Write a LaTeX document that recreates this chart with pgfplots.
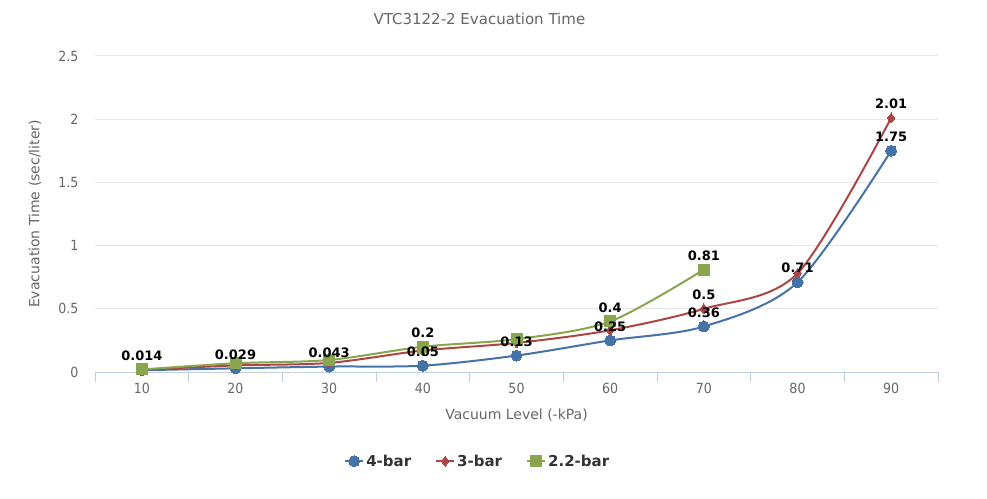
\documentclass[border=0pt]{standalone}
\usepackage{pgfplots}
\pgfplotsset{compat=1.18}
\usepackage{pgfplotstable}
\usepackage{fontspec}
\setmainfont{DejaVu Sans}
\newfontfamily\condfont{DejaVu Sans Condensed}
\definecolor{sblue}{HTML}{4572A7}
\definecolor{sred}{HTML}{AA4643}
\definecolor{sgreen}{HTML}{89A54E}
\definecolor{gridc}{HTML}{E6E6E6}
\definecolor{axisc}{HTML}{C0D0E0}
\definecolor{txt}{HTML}{666666}
\definecolor{legtxt}{HTML}{333333}

\pgfplotstableread{
x y
0 0.014
1 0.029
2 0.043
3 0.05
4 0.13
5 0.25
6 0.36
7 0.71
8 1.75
}\fourbar
\pgfplotstableread{
x y
0 0.018
1 0.052
2 0.072
3 0.17
4 0.23
5 0.33
6 0.5
7 0.78
8 2.01
}\threebar
\pgfplotstableread{
x y
0 0.02
1 0.069
2 0.095
3 0.2
4 0.26
5 0.4
6 0.81
}\twobar
\pgfplotstableread{
x y lab
0 0.014 0.014
1 0.029 0.029
2 0.043 0.043
3 0.05 0.05
4 0.13 0.13
5 0.25 0.25
6 0.36 0.36
7 0.71 0.71
8 1.75 1.75
}\fourlab
\pgfplotstableread{
x y lab
6 0.5 0.5
8 2.01 2.01
}\threelab
\pgfplotstableread{
x y lab
3 0.2 0.2
5 0.4 0.4
6 0.81 0.81
}\twolab

\begin{document}
\begin{tikzpicture}
\useasboundingbox (0,0) rectangle (987pt,498pt);
\begin{axis}[
  at={(95pt,126pt)}, anchor=south west,
  scale only axis, width=843pt, height=316pt,
  xmin=-0.5, xmax=8.5, ymin=0, ymax=2.5,
  axis x line*=bottom, axis y line*=left,
  x axis line style={draw=axisc, line width=1pt},
  y axis line style={draw=none},
  xtick={0,...,8},
  xticklabels={10,20,30,40,50,60,70,80,90},
  xtick style={draw=none},
  extra x ticks={-0.5,0.5,...,8.5},
  extra x tick labels={},
  extra x tick style={xtick style={draw=axisc, line width=1pt}, major tick length=10pt, tick align=outside, grid=none},
  ytick={0,0.5,1,1.5,2,2.5},
  ytick style={draw=none},
  ymajorgrids, grid style={draw=gridc, line width=1pt},
  /pgf/number format/assume math mode=true,
  xticklabel style={font=\condfont\fontsize{14}{14}\selectfont, text=txt, yshift=-8pt},
  yticklabel style={font=\condfont\fontsize{14}{14}\selectfont, text=txt, xshift=-13pt},
  xlabel={Vacuum Level (-kPa)},
  xlabel style={at={(axis description cs:0.5,-0.136)}, anchor=center, font=\fontsize{14}{14}\selectfont, text=txt},
  ylabel={Evacuation Time (sec/liter)},
  ylabel style={at={(axis description cs:-0.0712,0.5)}, anchor=center, font=\fontsize{14}{14}\selectfont, text=txt},
  title={VTC3122-2 Evacuation Time},
  title style={at={(axis description cs:0.456,1.098)}, anchor=center, font=\fontsize{15}{15}\selectfont, text=txt},
  legend style={at={(axis description cs:0.454,-0.282)}, anchor=center, draw=none, fill=none,
    legend columns=3, font=\bfseries\fontsize{15}{15}\selectfont, text=legtxt,
    /tikz/every even column/.append style={column sep=22pt}},
  legend image code/.code={\draw[#1, mark repeat=2, mark phase=2] plot coordinates {(0pt,0pt) (9pt,0pt) (18pt,0pt)};},
  every axis plot/.append style={line width=2pt, smooth, tension=0.5},
  clip=false,
]
\addplot[color=sblue, mark=*, mark size=5.5pt, mark options={line width=0pt, solid}] table[x=x,y=y] {\fourbar};
\addlegendentry{4-bar}
\addplot[color=sred, mark=diamond*, mark size=5pt, mark options={line width=0pt, solid}] table[x=x,y=y] {\threebar};
\addlegendentry{3-bar}
\addplot[color=sgreen, mark=square*, mark size=5.5pt, mark options={line width=0pt, solid}] table[x=x,y=y] {\twobar};
\addlegendentry{2.2-bar}

\addplot[forget plot, only marks, mark=none, point meta=explicit symbolic,
  nodes near coords, nodes near coords style={font=\bfseries\fontsize{13}{13}\selectfont, text=black, anchor=center, yshift=14pt}]
  table[x=x,y=y,meta=lab] {\fourlab};
\addplot[forget plot, only marks, mark=none, point meta=explicit symbolic,
  nodes near coords, nodes near coords style={font=\bfseries\fontsize{13}{13}\selectfont, text=black, anchor=center, yshift=14pt}]
  table[x=x,y=y,meta=lab] {\threelab};
\addplot[forget plot, only marks, mark=none, point meta=explicit symbolic,
  nodes near coords, nodes near coords style={font=\bfseries\fontsize{13}{13}\selectfont, text=black, anchor=center, yshift=14pt}]
  table[x=x,y=y,meta=lab] {\twolab};
\end{axis}
\end{tikzpicture}
\end{document}
